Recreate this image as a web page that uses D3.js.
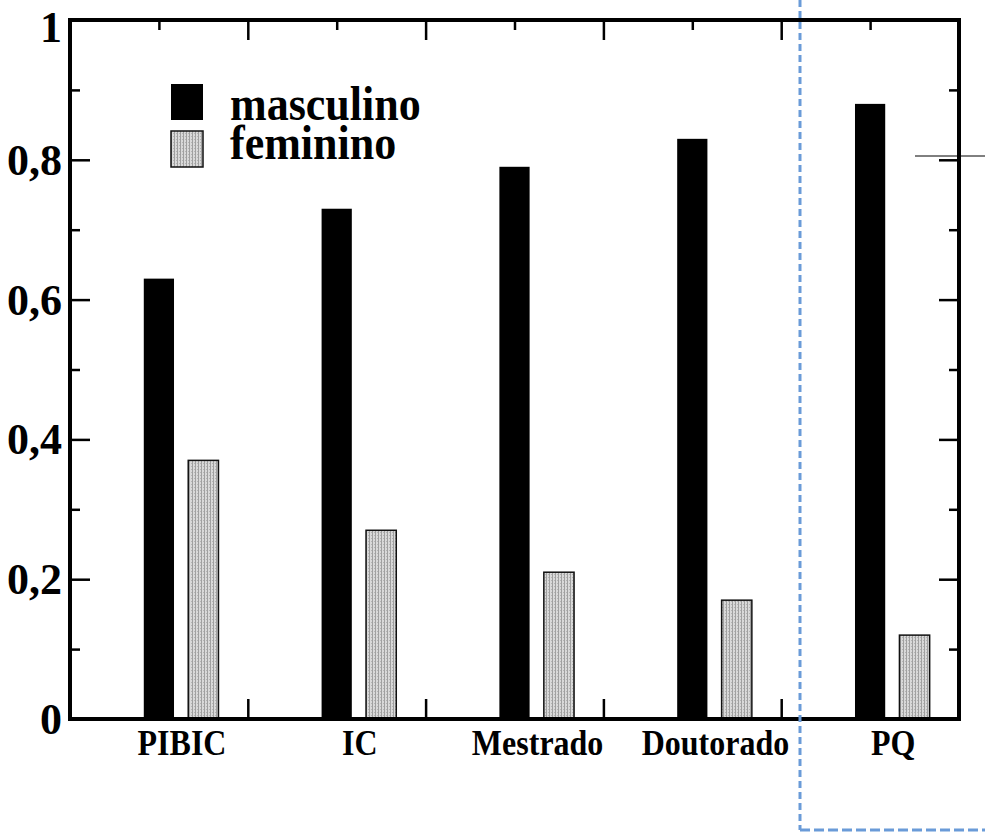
<!DOCTYPE html>
<html>
<head>
<meta charset="utf-8">
<script src="https://cdn.jsdelivr.net/npm/d3@7/dist/d3.min.js"></script>
<style>
  html, body { margin: 0; padding: 0; background: #fff; }
  svg { display: block; }
  text { font-family: "Liberation Serif", "DejaVu Serif", serif; font-weight: bold; fill: #000; }
</style>
</head>
<body>
<script>
// ---- data ----
const categories = ["PIBIC", "IC", "Mestrado", "Doutorado", "PQ"];
const masculino = [0.63, 0.73, 0.79, 0.83, 0.88];
const feminino  = [0.37, 0.27, 0.21, 0.17, 0.12];
const seriesNames = ["masculino", "feminino"];
const yTickValues = [0, 0.2, 0.4, 0.6, 0.8, 1];
const yTickLabels = ["0", "0,2", "0,4", "0,6", "0,8", "1"];
const yMinorTicks = [0.1, 0.3, 0.5, 0.7, 0.9];
const xMajorTicks = [1, 2, 3, 4];
const xMinorTicks = [0.5, 1.5, 2.5, 3.5, 4.5];

(function () {
const W = 985, H = 833;
const pLeft = 70, pRight = 959, pTop = 20, pBottom = 719;

const svg = d3.select("body").append("svg").attr("width", W).attr("height", H);

const defs = svg.append("defs");
const pat = defs.append("pattern").attr("id", "stip")
  .attr("patternUnits", "userSpaceOnUse").attr("width", 3).attr("height", 3);
pat.append("rect").attr("width", 3).attr("height", 3).attr("fill", "#d9d9d9");
pat.append("rect").attr("x", 0).attr("y", 0).attr("width", 1).attr("height", 3).attr("fill", "#a0a0a0");
pat.append("rect").attr("x", 2).attr("y", 1).attr("width", 1).attr("height", 1).attr("fill", "#b4b4b4");

const x = d3.scaleLinear().domain([0, 5]).range([pLeft, pRight]);
const y = d3.scaleLinear().domain([0, 1]).range([pBottom, pTop]);

const barW = x(0.17) - x(0);

// bars
const g = svg.append("g");
g.selectAll("rect.m").data(masculino).join("rect")
  .attr("class", "m")
  .attr("x", (d, i) => x(i + 0.5) - barW / 2)
  .attr("y", d => y(d))
  .attr("width", barW)
  .attr("height", d => y(0) - y(d))
  .attr("fill", "#000");
g.selectAll("rect.f").data(feminino).join("rect")
  .attr("class", "f")
  .attr("x", (d, i) => x(i + 0.75) - barW / 2)
  .attr("y", d => y(d))
  .attr("width", barW)
  .attr("height", d => y(0) - y(d))
  .attr("fill", "url(#stip)")
  .attr("stroke", "#111").attr("stroke-width", 1.5);

// frame axes using d3 axes (ticks inward)
const majorLen = 20, minorLen = 10;
function axisG(axis, tx, ty) {
  const a = svg.append("g").attr("transform", `translate(${tx},${ty})`).call(axis);
  a.selectAll(".domain").remove();
  a.selectAll("text").remove();
  a.selectAll("line").attr("stroke", "#000").attr("stroke-width", 2.5);
  return a;
}
axisG(d3.axisLeft(y).tickValues(yTickValues).tickSize(-majorLen), pLeft, 0);
axisG(d3.axisLeft(y).tickValues(yMinorTicks).tickSize(-minorLen), pLeft, 0);
axisG(d3.axisRight(y).tickValues(yTickValues).tickSize(-majorLen), pRight, 0);
axisG(d3.axisRight(y).tickValues(yMinorTicks).tickSize(-minorLen), pRight, 0);
axisG(d3.axisTop(x).tickValues(xMajorTicks).tickSize(-majorLen), 0, pTop);
axisG(d3.axisTop(x).tickValues(xMinorTicks).tickSize(-minorLen), 0, pTop);
axisG(d3.axisBottom(x).tickValues(xMajorTicks).tickSize(-majorLen), 0, pBottom);

// frame
svg.append("rect").attr("x", pLeft).attr("y", pTop)
  .attr("width", pRight - pLeft).attr("height", pBottom - pTop)
  .attr("fill", "none").attr("stroke", "#000").attr("stroke-width", 4);

// y tick labels
svg.selectAll("text.yl").data(yTickValues).join("text")
  .attr("class", "yl")
  .attr("x", pLeft - 8)
  .attr("y", d => Math.max(y(d) + 15, 42))
  .attr("text-anchor", "end")
  .attr("font-size", 44)
  .text((d, i) => yTickLabels[i]);

// x category labels
svg.selectAll("text.xl").data(categories).join("text")
  .attr("class", "xl")
  .attr("transform", (d, i) => `translate(${x(i + 0.63)},${pBottom + 36}) scale(1,1.12)`)
  .attr("text-anchor", "middle")
  .attr("font-size", 32)
  .text(d => d);

// legend
const leg = svg.append("g");
const legFills = ["#000", "url(#stip)"];
seriesNames.forEach((name, i) => {
  leg.append("rect")
    .attr("x", 171).attr("y", 84 + i * 47)
    .attr("width", 32).attr("height", 36)
    .attr("fill", legFills[i])
    .attr("stroke", i === 1 ? "#111" : "none").attr("stroke-width", 1.5);
  leg.append("text")
    .attr("transform", `translate(230,${120 + i * 39}) scale(1,1.08)`)
    .attr("font-size", 44)
    .text(name);
});

// overlay annotations: thin line and dashed blue box
svg.append("line").attr("x1", 915).attr("x2", 985).attr("y1", 156).attr("y2", 156)
  .attr("stroke", "#000").attr("stroke-width", 1);
svg.append("line").attr("x1", 800).attr("x2", 800).attr("y1", 0).attr("y2", 830)
  .attr("stroke", "#6a9bd8").attr("stroke-width", 3).attr("stroke-dasharray", "7,4");
svg.append("line").attr("x1", 800).attr("x2", 985).attr("y1", 830).attr("y2", 830)
  .attr("stroke", "#6a9bd8").attr("stroke-width", 3).attr("stroke-dasharray", "10,4");
})();
</script>
</body>
</html>
